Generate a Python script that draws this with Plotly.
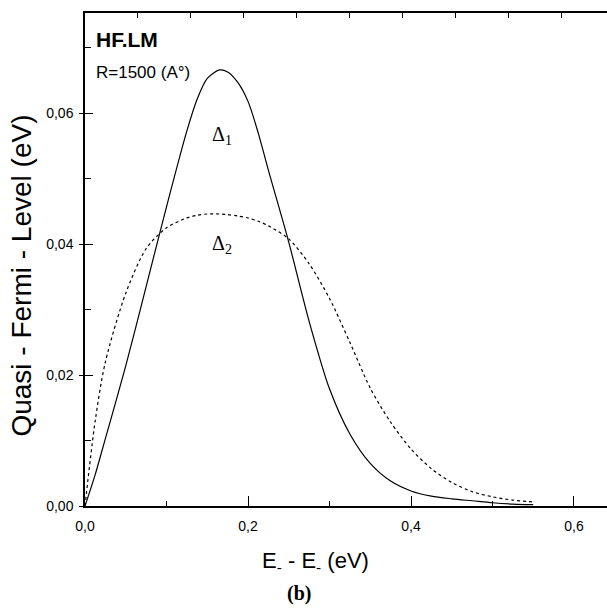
import plotly.graph_objects as go

# Energy axis (eV)
x_vals = [0.0, 0.0125, 0.025, 0.05, 0.075, 0.1, 0.125, 0.1375, 0.15, 0.165, 0.175, 0.1875, 0.2,
          0.2125, 0.225, 0.25, 0.275, 0.3, 0.325, 0.35, 0.375, 0.4, 0.425, 0.45, 0.475, 0.5,
          0.525, 0.55]

# Delta 1 (solid)
delta1 = [0.0, 0.0048, 0.0103, 0.0214, 0.0335, 0.0457, 0.0573, 0.0621, 0.0653, 0.0666, 0.0663,
          0.0647, 0.0618, 0.0570, 0.0513, 0.0403, 0.0282, 0.0179, 0.0110, 0.0065, 0.0038,
          0.0023, 0.0015, 0.0011, 0.0008, 0.0005, 0.0003, 0.0002]

# Delta 2 (dotted)
delta2 = [0.0, 0.0130, 0.0220, 0.0325, 0.0393, 0.0425, 0.0440, 0.0444, 0.0446, 0.0446, 0.0445,
          0.0443, 0.0440, 0.0435, 0.0428, 0.0408, 0.0370, 0.0317, 0.0250, 0.0180, 0.0128,
          0.0087, 0.0057, 0.0036, 0.0022, 0.0014, 0.0009, 0.0006]

x_range = [0, 0.6405]
y_range = [0, 0.0753]

fig = go.Figure()
fig.add_trace(go.Scatter(x=x_vals, y=delta1, mode="lines", line=dict(color="black", width=1.2, shape="spline", smoothing=0.8), showlegend=False))
fig.add_trace(go.Scatter(x=x_vals, y=delta2, mode="lines", line=dict(color="black", width=1.2, dash="dot", shape="spline", smoothing=0.8), showlegend=False))

tickfont = dict(family="Liberation Sans, Arial", size=14, color="black")

fig.update_layout(
    width=607, height=613,
    margin=dict(l=85, r=0, t=13, b=107),
    plot_bgcolor="white", paper_bgcolor="white",
    separators=",.",
    showlegend=False,
    xaxis=dict(range=x_range, showline=True, linecolor="black", linewidth=1.5,
               tick0=0, dtick=0.2, tickformat=".1f", ticks="inside", ticklen=10, tickcolor="black",
               minor=dict(dtick=0.1, ticks="inside", ticklen=5, tickcolor="black"),
               showgrid=False, zeroline=False, tickfont=tickfont, ticklabelstandoff=6),
    yaxis=dict(range=y_range, showline=True, linecolor="black", linewidth=1.5,
               tick0=0, dtick=0.02, tickformat=".2f", ticks="outside", ticklen=4, tickcolor="black",
               showgrid=False, zeroline=False, tickfont=tickfont, ticklabelstandoff=3),
    xaxis2=dict(range=x_range, overlaying="x", side="top", showline=True, linecolor="black",
                linewidth=1.5, tick0=0, dtick=0.065, ticks="inside", ticklen=5, tickcolor="black",
                showticklabels=False, showgrid=False, zeroline=False),
    yaxis2=dict(range=y_range, overlaying="y", side="left", showline=False,
                tick0=0, dtick=0.02, ticks="inside", ticklen=8, tickcolor="black",
                minor=dict(dtick=0.01, ticks="inside", ticklen=6, tickcolor="black"),
                showticklabels=False, showgrid=False, zeroline=False),
)
# dummy trace to activate overlay axes
fig.add_trace(go.Scatter(x=[None], y=[None], xaxis="x2", yaxis="y2", showlegend=False, hoverinfo="skip"))

fig.add_annotation(text="Quasi - Fermi - Level (eV)", xref="paper", yref="paper", x=-0.121, y=0.467,
                   textangle=-90, showarrow=False, font=dict(family="Liberation Sans, Arial", size=28, color="black"),
                   xanchor="center", yanchor="middle")
fig.add_annotation(text="E<sub>-</sub> - E<sub>-</sub> (eV)", x=0.283, y=-0.113, xref="x", yref="paper",
                   showarrow=False, font=dict(family="Liberation Sans, Arial", size=22, color="black"),
                   xanchor="center", yanchor="middle")
fig.add_annotation(text="<b>(b)</b>", x=0.263, y=-0.178, xref="x", yref="paper",
                   showarrow=False, font=dict(family="Liberation Serif, Times New Roman", size=20, color="black"),
                   xanchor="center", yanchor="middle")
fig.add_annotation(text="<b>HF.LM</b>", x=0.011, y=0.9465, xref="x", yref="paper", showarrow=False,
                   xanchor="left", yanchor="middle",
                   font=dict(family="Liberation Sans, Arial", size=21, color="black"))
fig.add_annotation(text="R=1500 (A°)", x=0.011, y=0.88, xref="x", yref="paper", showarrow=False,
                   xanchor="left", yanchor="middle",
                   font=dict(family="Liberation Sans, Arial", size=17, color="black"))
fig.add_annotation(text="Δ<sub>1</sub>", x=0.168, y=0.0566, xref="x", yref="y", showarrow=False,
                   xanchor="center", yanchor="middle",
                   font=dict(family="Liberation Serif, Times New Roman", size=20, color="black"))
fig.add_annotation(text="Δ<sub>2</sub>", x=0.168, y=0.0400, xref="x", yref="y", showarrow=False,
                   xanchor="center", yanchor="middle",
                   font=dict(family="Liberation Serif, Times New Roman", size=20, color="black"))

fig.write_html("out.html")
